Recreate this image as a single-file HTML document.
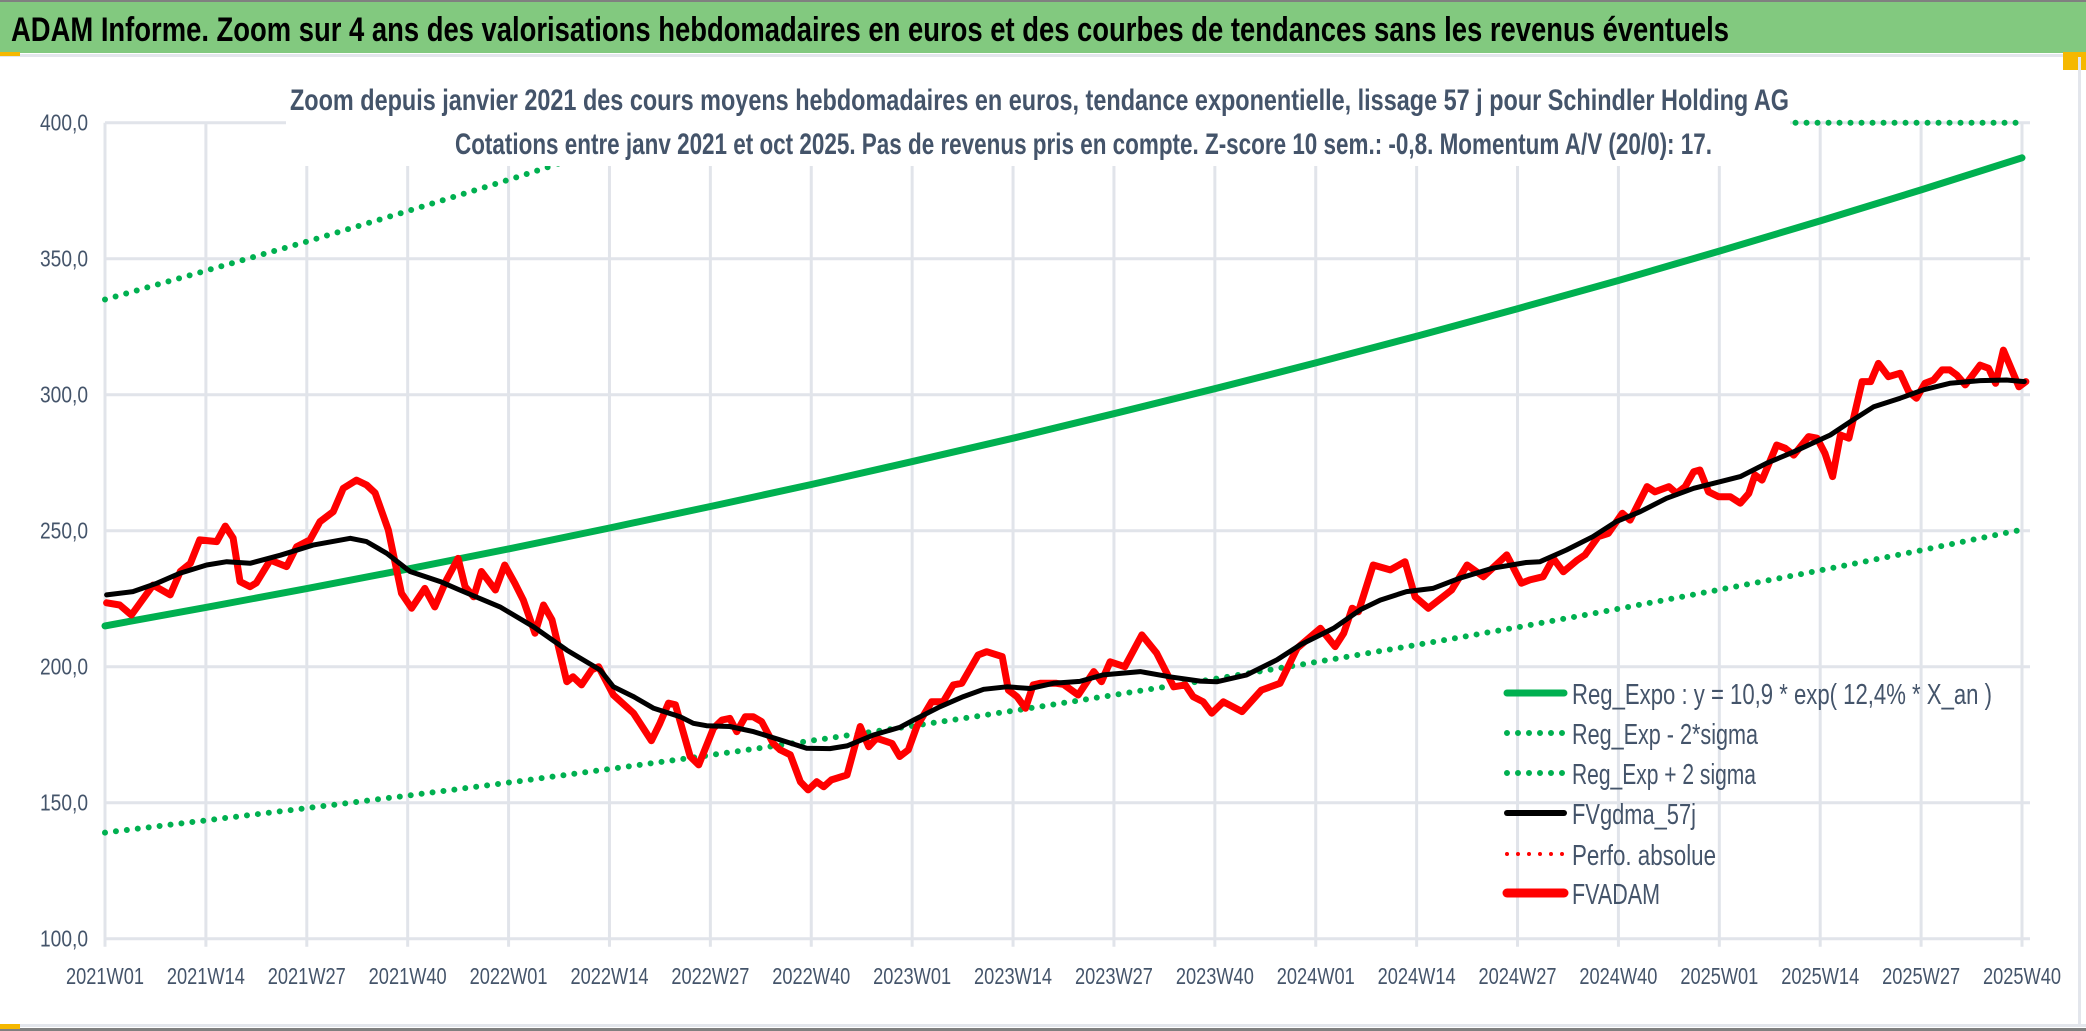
<!DOCTYPE html>
<html><head><meta charset="utf-8"><style>
html,body{margin:0;padding:0;background:#fff;}
svg{display:block;font-family:"Liberation Sans Narrow","Liberation Sans",sans-serif;}
</style></head><body>
<svg id="chart" width="2086" height="1031" viewBox="0 0 2086 1031">
<rect x="0" y="0" width="2086" height="1031" fill="#fff"/>
<rect x="0" y="0" width="2086" height="53" fill="#82C97F"/>
<rect x="0" y="0" width="2086" height="2" fill="#808080"/>
<rect x="0" y="54" width="2080" height="3" fill="#e3e6ec"/>
<rect x="2063" y="52" width="23" height="18" fill="#f5b800"/>
<rect x="0" y="52" width="20" height="4" fill="#f5b800"/>
<rect x="2078" y="57" width="3" height="970" fill="#e3e6ec"/>
<rect x="0" y="1024" width="2086" height="3" fill="#e3e6ec"/>
<rect x="0" y="1028" width="2086" height="3" fill="#808080"/>
<rect x="0" y="1024" width="20" height="5" fill="#f5b800"/>
<text x="11" y="41" font-size="34" font-weight="bold" fill="#000" textLength="1718" lengthAdjust="spacingAndGlyphs">ADAM Informe. Zoom sur 4 ans des valorisations hebdomadaires en euros et des courbes de tendances sans les revenus éventuels</text>
<g id="grid"></g>
<g id="axes"></g>
<g id="series"></g>
<rect x="286" y="72" width="1504" height="94" fill="#fff"/>
<text x="290" y="110" font-size="30" font-weight="bold" fill="#44546A" textLength="1499" lengthAdjust="spacingAndGlyphs">Zoom depuis janvier 2021 des cours moyens hebdomadaires en euros, tendance exponentielle, lissage 57 j pour Schindler Holding AG</text>
<text x="455" y="154" font-size="30" font-weight="bold" fill="#44546A" textLength="1257" lengthAdjust="spacingAndGlyphs">Cotations entre janv 2021 et oct 2025. Pas de revenus pris en compte. Z-score 10 sem.: -0,8. Momentum A/V (20/0): 17.</text>
<g id="legend"></g>
</svg>
<script>
const xTickLabels=["2021W01","2021W14","2021W27","2021W40","2022W01","2022W14","2022W27","2022W40","2023W01","2023W14","2023W27","2023W40","2024W01","2024W14","2024W27","2024W40","2025W01","2025W14","2025W27","2025W40"];
const yTickValues=[100,150,200,250,300,350,400];
const yTickLabels=["100,0","150,0","200,0","250,0","300,0","350,0","400,0"];
const regWeeks=[0,13,26,39,52,65,78,91,104,117,130,143,156,169,182,195,208,221,234,247];
const regExpo=[215,221.8,228.7,235.9,243.3,251,258.9,267,275.4,284,293,302.2,311.7,321.5,331.6,342,352.8,363.9,375.3,387.1];
const regLow=[139,143.5,148,152.6,157.4,162.4,167.5,172.8,178.2,183.8,189.6,195.5,201.7,208,214.5,221.3,228.3,235.4,242.8,250.4];
const regHigh=[335,345.6,356.3,367.5,379,391,403.4,416,429,442.5,456.5,470.8,485.6,500.9,516.6,532.8,549.6,566.9,584.7,603.1];
const smaWeeks=[0.2,3.6,6.7,9.7,13.1,15.7,18.7,22.6,26.8,31.6,33.7,36.3,39.3,43.2,45.7,50.9,55.2,59.5,63.8,65.5,68.1,70.7,74.1,75.8,77.5,80.5,83.6,87,90.4,93.4,95.6,99,102.4,104.2,107.6,110.6,113.2,116.2,119.2,122.2,125.6,128.6,133.4,137.2,141.1,143.3,147.1,151,154,158.3,161.7,164.3,167.7,171.1,174.5,178.8,183.1,184.9,188.3,191.7,194.7,197.8,201.2,204.7,208.1,210.7,214.1,217.6,222.3,224.9,227.9,231.3,234.3,237.7,241.6,245,247.3];
const smaValues=[226.4,227.6,230.7,234.4,237.4,238.6,238,241,244.7,247.2,246,241.7,235,231.3,228.2,222,214.7,206.1,198.8,192.6,189,184.7,181.6,179.2,178.3,178,176.1,173.1,170,169.9,170.9,174.9,177.7,180.4,185.3,189,191.7,192.6,192,193.9,194.6,197,198.2,196.3,194.7,194.5,197,202.5,208,214.1,220.9,224.5,227.6,228.8,232.5,236.2,238.3,238.6,242.9,247.8,253.3,257,261.9,265.6,268,269.9,274.8,279,285.2,290.1,295.6,298.7,301.8,304.2,305.2,305.4,304.8];
const priceWeeks=[0.2,1.9,3.4,6.2,8.4,9.7,11,12.2,14.4,15.5,16.5,17.4,18.7,19.5,21.3,23.4,24.7,26.4,27.7,29.4,30.7,32.4,33.7,34.8,36.5,38.2,39.5,41.2,42.5,44,45.5,46.4,47.5,48.5,50.3,51.5,52.8,53.9,55.4,56.5,57.6,59.5,60.3,61.4,62.7,63.6,65.5,68.1,70.4,71.5,72.6,73.5,75.4,76.5,78.4,79.5,80.5,81.4,82.5,83.5,84.6,86.1,87,88.3,89.6,90.6,91.7,92.6,93.6,95.6,97.3,98.4,99.4,101.4,102.4,103.5,104.6,106.5,108,109.3,110.4,112.5,113.6,115.6,116.4,117.5,118.6,119.6,120.5,122.6,123.5,125.4,127.4,128.4,129.5,131.4,133.6,135.5,137.7,139.2,140.2,141.5,142.6,144.1,146.5,149,151.4,153.6,156.6,158.5,159.6,160.7,161.5,163.4,165.6,167.5,168.8,170.5,173.5,175.5,177.6,180.6,182.5,183.6,185.3,186.6,187.9,189.7,190.7,192.4,193.7,195.5,196.5,198.7,199.7,201.5,202.5,203.6,204.7,205.5,206.6,207.9,209.4,210.7,211.8,212.6,213.5,215.4,216.5,217.6,219.5,220.6,221.6,222.6,223.6,224.7,226.4,227.5,228.5,229.8,231.3,232.4,233.4,234.5,235.6,236.7,237.7,238.6,239.7,241.6,242.7,243.6,244.6,246.6,247.5];
const priceValues=[223.5,222.7,219,230,226.4,235,238,246.6,246,251.7,247.3,231.3,229.4,230.8,239.2,236.8,244.1,246.6,253.3,257,265.6,268.6,266.8,263.9,250.3,227,221.5,228.8,222,231.9,239.8,229.4,225.7,235,228.2,237.4,230.7,224.5,212.3,222.7,217.2,194.5,196.3,193.3,198.8,200,189.6,182.9,172.8,179.2,186.6,186,167,163.9,177.4,180.4,181,176.1,181.6,181.6,179.8,171.8,169.4,167.6,157.7,154.7,157.7,155.9,158.4,160.2,178,170.6,173.7,171.8,167,169.4,178,187.1,187.1,193.3,193.9,204.3,205.5,203.7,191.4,189,184.7,193.3,193.9,193.9,193.5,189.6,198.2,194.5,201.8,200,211.7,205,192.6,193.3,189,187.1,182.9,187.1,183.5,191.4,193.9,206.8,214.1,207.4,212.3,221.5,220.2,237.4,235.6,238.6,225.7,221.5,228.2,237.4,233.1,241.1,230.7,231.9,233.1,239.8,234.9,239.2,241.1,247.8,249,256.4,253.9,266.2,264.3,266.2,263.7,266.2,271.7,272.3,264.3,262.5,262.5,260.1,263.7,270.5,268.6,281.5,280.3,277.8,284.6,284,278.5,269.9,285.2,284,304.8,304.8,311.5,306.6,307.9,301.1,298.7,304.2,305.4,309.1,309.1,307.2,303.6,310.9,309.7,304.2,316.4,302.9,304.8];

const NS="http://www.w3.org/2000/svg";
const X0=105,WEEKPX=1917/247,Y250=530.7,PX50=136;
function xs(w){return X0+w*WEEKPX;}
function ys(v){return Y250-(v-250)/50*PX50;}
function mk(tag,attrs,parent){const e=document.createElementNS(NS,tag);for(const k in attrs)e.setAttribute(k,attrs[k]);parent.appendChild(e);return e;}
const grid=document.getElementById('grid'),axes=document.getElementById('axes'),series=document.getElementById('series'),legend=document.getElementById('legend');
const XR=xs(247)+8;
yTickValues.forEach((v,i)=>{
 const l=mk('line',{x1:X0,x2:XR,y1:ys(v),y2:ys(v),stroke:'#e1e4ea','stroke-width':3},grid);
 
 
 const t=mk('text',{x:88,y:ys(v)+8,'font-size':23,fill:'#44546A','text-anchor':'end',textLength:48,lengthAdjust:'spacingAndGlyphs'},axes);
 t.textContent=yTickLabels[i];
 
 
});
xTickLabels.forEach((lab,i)=>{
 const x=xs(i*13);
 const l=mk('line',{x1:x,x2:x,y1:ys(400),y2:ys(100)+8,stroke:'#e1e4ea','stroke-width':3},grid);
 
 
 const t=mk('text',{x:x-39,y:984,'font-size':23,fill:'#44546A',textLength:78,lengthAdjust:'spacingAndGlyphs'},axes);
 t.textContent=lab;
 
 
});
function pts(ws,vs,clip){return ws.map((w,i)=>xs(w).toFixed(1)+','+ys(clip?Math.min(vs[i],400):vs[i]).toFixed(1)).join(' ');}
let p;
p=mk('polyline',{points:pts(regWeeks,regHigh,true),fill:'none',stroke:'#00B050','stroke-width':6,'stroke-dasharray':'0 11','stroke-linecap':'round'},series);


p=mk('polyline',{points:pts(regWeeks,regLow),fill:'none',stroke:'#00B050','stroke-width':6,'stroke-dasharray':'0 11','stroke-linecap':'round'},series);


p=mk('polyline',{points:pts(regWeeks,regExpo),fill:'none',stroke:'#00B050','stroke-width':7,'stroke-linecap':'round'},series);


p=mk('polyline',{points:pts(priceWeeks,priceValues),fill:'none',stroke:'#FF0000','stroke-width':7,'stroke-linejoin':'round','stroke-linecap':'round'},series);


p=mk('polyline',{points:pts(smaWeeks,smaValues),fill:'none',stroke:'#000','stroke-width':5,'stroke-linejoin':'round','stroke-linecap':'round'},series);


const legendItems=[
 ["Reg_Expo : y = 10,9 * exp( 12,4% *  X_an )","#00B050",false,7,420],
 ["Reg_Exp - 2*sigma","#00B050",true,6,186],
 ["Reg_Exp + 2 sigma","#00B050",true,6,184],
 ["FVgdma_57j","#000",false,6,124],
 ["Perfo. absolue","#FF0000",true,4,144],
 ["FVADAM","#FF0000",false,9,88]];
const legendY=[693,733,773,813,854,893];
legendItems.forEach((it,i)=>{
 const y=legendY[i];
 const a={x1:1507,x2:1564,y1:y,y2:y,stroke:it[1],'stroke-width':it[3],'stroke-linecap':'round'};
 if(it[2])a['stroke-dasharray']='0 11';
 const l=mk('line',a,legend);
 
 
 const t=mk('text',{x:1572,y:y+11,'font-size':29,fill:'#44546A',textLength:it[4],lengthAdjust:'spacingAndGlyphs'},legend);
 t.textContent=it[0];
 
 
});
</script>
</body></html>
